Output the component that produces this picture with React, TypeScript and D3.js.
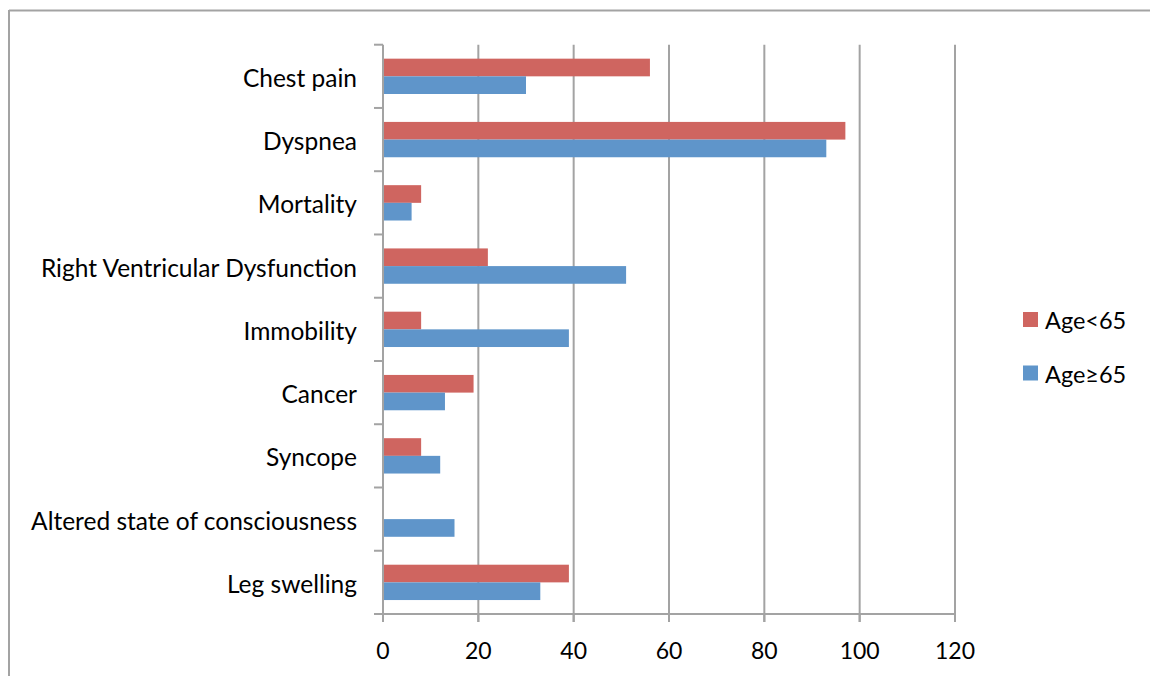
import React from "react";
import * as d3 from "d3";

const categories = [
  "Chest pain",
  "Dyspnea",
  "Mortality",
  "Right Ventricular Dysfunction",
  "Immobility",
  "Cancer",
  "Syncope",
  "Altered state of consciousness",
  "Leg swelling",
];
const seriesNames = ["Age<65", "Age≥65"];
const under65 = [56, 97, 8, 22, 8, 19, 8, 0, 39];
const over65 = [30, 93, 6, 51, 39, 13, 12, 15, 33];
const xTicks = [0, 20, 40, 60, 80, 100, 120];

const W = 1150;
const H = 676;
const plot = { left: 383, right: 955, top: 44.7, bottom: 614 };
const colors = ["#CF6560", "#5F95CA"];
const gridColor = "#A3A3A3";
const font = "Lato, 'Open Sans', sans-serif";

export default function App() {
  const x = d3.scaleLinear().domain([0, 120]).range([plot.left, plot.right]);
  const y = d3
    .scaleBand<string>()
    .domain(categories)
    .range([plot.top, plot.bottom])
    .paddingInner(0)
    .paddingOuter(0);
  const sub = d3
    .scaleBand<string>()
    .domain(seriesNames)
    .range([0, y.bandwidth()])
    .paddingInner(0)
    .paddingOuter(0.79);
  const values = [under65, over65];
  const bandEdges = categories.map((c) => y(c) as number).concat([plot.bottom]);

  return (
    <svg
      width={W}
      height={H}
      style={{ position: "absolute", left: 0, top: 0, display: "block", background: "#fff" }}
    >
      {/* outer chart frame */}
      <line x1={9} y1={10.5} x2={W} y2={10.5} stroke={gridColor} strokeWidth={2} />
      <line x1={9} y1={10} x2={9} y2={H} stroke={gridColor} strokeWidth={2} />

      {/* vertical gridlines */}
      {xTicks
        .filter((t) => t > 0)
        .map((t) => (
          <line
            key={"g" + t}
            x1={x(t)}
            x2={x(t)}
            y1={plot.top}
            y2={plot.bottom + 8}
            stroke={gridColor}
            strokeWidth={2}
          />
        ))}

      {/* bars */}
      {values.map((vals, si) =>
        categories.map((c, ci) =>
          vals[ci] > 0 ? (
            <rect
              key={si + "-" + c}
              x={x(0)}
              y={(y(c) as number) + (sub(seriesNames[si]) as number)}
              width={x(vals[ci]) - x(0)}
              height={sub.bandwidth()}
              fill={colors[si]}
            />
          ) : null
        )
      )}

      {/* y axis */}
      <line x1={plot.left} x2={plot.left} y1={plot.top} y2={plot.bottom + 8} stroke={gridColor} strokeWidth={2} />
      {bandEdges.map((e, i) => (
        <line key={"yt" + i} x1={plot.left - 9} x2={plot.left} y1={e} y2={e} stroke={gridColor} strokeWidth={2} />
      ))}
      {categories.map((c) => (
        <text
          key={"yl" + c}
          x={357}
          y={(y(c) as number) + y.bandwidth() / 2 + 1}
          textAnchor="end"
          dominantBaseline="central"
          fontFamily={font}
          fontSize={24.5}
          fill="#000"
        >
          {c}
        </text>
      ))}

      {/* x axis */}
      <line x1={plot.left - 9} x2={plot.right} y1={plot.bottom} y2={plot.bottom} stroke={gridColor} strokeWidth={2} />
      {xTicks.map((t) => (
        <g key={"xt" + t}>
          <line x1={x(t)} x2={x(t)} y1={plot.bottom} y2={plot.bottom + 8} stroke={gridColor} strokeWidth={2} />
          <text
            x={x(t)}
            y={650}
            textAnchor="middle"
            dominantBaseline="central"
            fontFamily={font}
            fontSize={23}
            fill="#000"
          >
            {t}
          </text>
        </g>
      ))}

      {/* legend */}
      {seriesNames.map((s, i) => (
        <g key={"lg" + s} transform={`translate(1023, ${312 + i * 53.5})`}>
          <rect x={0} y={0} width={15} height={15} fill={colors[i]} />
          <text x={22} y={8} dominantBaseline="central" fontFamily={font} fontSize={23.5} fill="#000">
            {s}
          </text>
        </g>
      ))}
    </svg>
  );
}
